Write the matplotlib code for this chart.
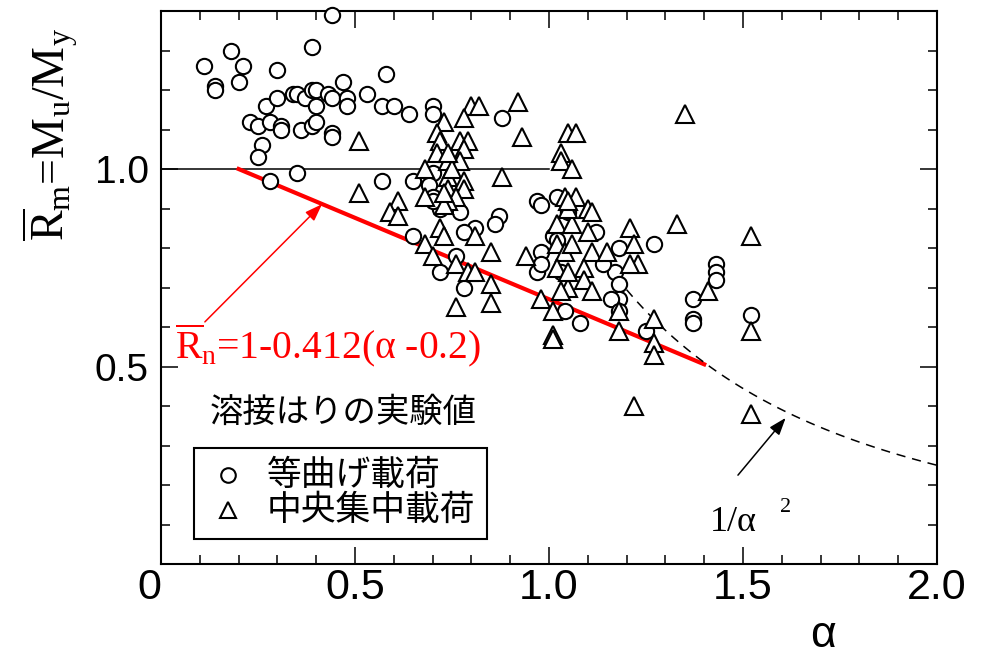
import matplotlib
matplotlib.use('Agg')
import matplotlib.pyplot as plt
import numpy as np
from matplotlib.patches import Rectangle
from matplotlib.ticker import MultipleLocator, FixedLocator

plt.rcParams['font.family'] = ['Liberation Sans', 'DejaVu Sans']
plt.rcParams['mathtext.fontset'] = 'custom'
plt.rcParams['mathtext.rm'] = 'Liberation Serif'
plt.rcParams['mathtext.it'] = 'Liberation Serif:italic'

# 等曲げ載荷 (uniform bending)
circle_x = [0.44, 0.18, 0.39, 0.11, 0.21, 0.30, 0.58, 0.14, 0.14, 0.20,
            0.47, 0.53, 0.27, 0.30, 0.34, 0.35, 0.37, 0.39, 0.40, 0.40,
            0.43, 0.44, 0.48, 0.48, 0.57, 0.60, 0.64, 0.70, 0.70, 0.23,
            0.25, 0.28, 0.31, 0.31, 0.36, 0.39, 0.40, 0.44, 0.44, 0.26,
            0.25, 0.28, 0.35, 0.57, 0.65, 0.70, 0.88, 0.69, 0.70, 0.72,
            0.77, 0.81, 0.87, 0.86, 0.65, 0.78, 0.76, 0.72, 0.78, 0.97,
            0.98, 1.02, 0.98, 0.97, 0.98, 1.04, 1.08, 1.12, 1.01, 1.18,
            1.17, 1.18, 1.27, 1.43, 1.43, 1.43, 1.37, 1.37, 1.37, 1.52,
            1.18, 1.16, 1.18, 1.25, 1.05, 1.02, 1.03, 1.14, 0.70]
circle_y = [1.39, 1.30, 1.31, 1.26, 1.26, 1.25, 1.24, 1.21, 1.20, 1.22,
            1.22, 1.19, 1.16, 1.18, 1.19, 1.19, 1.18, 1.20, 1.20, 1.16,
            1.19, 1.18, 1.18, 1.16, 1.16, 1.16, 1.14, 1.16, 1.14, 1.12,
            1.11, 1.12, 1.11, 1.10, 1.10, 1.11, 1.12, 1.09, 1.08, 1.06,
            1.03, 0.97, 0.99, 0.97, 0.97, 0.99, 1.13, 0.96, 0.93, 0.90,
            0.89, 0.85, 0.88, 0.86, 0.83, 0.84, 0.78, 0.74, 0.70, 0.92,
            0.91, 0.93, 0.79, 0.74, 0.76, 0.64, 0.61, 0.84, 0.83, 0.80,
            0.74, 0.71, 0.81, 0.76, 0.74, 0.72, 0.67, 0.62, 0.61, 0.63,
            0.67, 0.67, 0.64, 0.59, 0.89, 0.82, 0.74, 0.76, 0.92]

# 中央集中載荷 (central point load)
tri_x = [0.51, 0.51, 0.61, 0.59, 0.80, 0.82, 0.92, 0.78, 0.73, 0.71,
         0.72, 0.77, 0.79, 0.78, 0.93, 1.05, 1.07, 0.71, 0.74, 0.77,
         0.68, 0.88, 1.03, 1.03, 1.06, 0.74, 0.75, 0.78, 0.74, 0.78,
         0.76, 0.74, 0.73, 0.61, 0.72, 0.73, 0.68, 0.81, 0.70, 0.85,
         0.94, 0.76, 0.79, 0.81, 0.85, 0.85, 0.76, 0.98, 1.01, 1.01,
         1.01, 1.02, 1.06, 1.02, 1.04, 1.02, 1.04, 1.07, 1.05, 1.05,
         1.03, 1.35, 1.05, 1.10, 1.11, 1.10, 1.21, 1.33, 1.06, 1.11,
         1.15, 1.22, 1.23, 1.21, 1.09, 1.09, 1.52, 1.41, 1.52, 1.11,
         1.18, 1.18, 1.27, 1.27, 1.27, 1.22, 1.52, 1.05, 0.74, 0.68,
         0.73]
tri_y = [1.07, 0.94, 0.92, 0.89, 1.16, 1.16, 1.17, 1.13, 1.12, 1.09,
         1.07, 1.07, 1.07, 1.05, 1.08, 1.09, 1.09, 1.04, 1.02, 1.02,
         1.00, 0.98, 1.04, 1.02, 1.00, 0.98, 1.00, 0.97, 0.95, 0.95,
         0.93, 0.92, 0.91, 0.88, 0.85, 0.83, 0.81, 0.83, 0.78, 0.79,
         0.78, 0.76, 0.74, 0.74, 0.71, 0.66, 0.65, 0.67, 0.64, 0.58,
         0.57, 0.86, 0.86, 0.81, 0.79, 0.75, 0.93, 0.93, 0.90, 0.70,
         0.69, 1.14, 0.92, 0.90, 0.89, 0.84, 0.85, 0.86, 0.81, 0.79,
         0.79, 0.81, 0.76, 0.76, 0.75, 0.72, 0.83, 0.69, 0.59, 0.69,
         0.64, 0.59, 0.62, 0.56, 0.53, 0.40, 0.38, 0.74, 1.04, 0.93,
         0.94]

x_ticks = [0, 0.5, 1.0, 1.5, 2.0]
x_ticklabels = ['0', '0.5', '1.0', '1.5', '2.0']
y_ticks = [0.5, 1.0]
y_ticklabels = ['0.5', '1.0']

# design curves
a_lin = np.array([0.2, 1.4])
r_lin = 1 - 0.412 * (a_lin - 0.2)
a_euler = np.linspace(1.2, 2.0, 60)
r_euler = 1 / a_euler ** 2

fig = plt.figure(figsize=(9.91, 6.56), dpi=100)
ax = fig.add_axes([0.1625, 0.1402, 0.783, 0.843])
ax.set_xlim(0, 2.0)
ax.set_ylim(0, 1.4)

ax.plot([0, 1.0], [1.0, 1.0], color='black', lw=1.1, zorder=2)
ax.plot(a_lin, r_lin, color='red', lw=3.0, zorder=2)
ax.plot(a_euler, r_euler, color='black', lw=1.1, ls=(0, (6, 4.5)), zorder=2)

mk = dict(ls='none', mfc='white', mec='black', mew=1.5, clip_on=False, zorder=3)
ax.plot(circle_x, circle_y, marker='o', ms=11, **mk)
ax.plot(tri_x, tri_y, marker='^', ms=12.5, **mk)

# formula labels with arrows
ax.annotate('', xy=(0.415, 0.911), xytext=(0.113, 0.613),
            arrowprops=dict(arrowstyle='-|>,head_length=0.7,head_width=0.25',
                            color='red', lw=1.1, mutation_scale=15, shrinkA=0, shrinkB=0))
ax.text(0.036, 0.5215, r'$\overline{\mathrm{R}}_{\mathrm{n}}$=1-0.412(α -0.2)',
        color='red', fontsize=28.5, family=['Liberation Serif'], ha='left', va='baseline')

ax.annotate('', xy=(1.61, 0.37), xytext=(1.487, 0.225),
            arrowprops=dict(arrowstyle='-|>,head_length=0.7,head_width=0.25',
                            color='black', lw=1.1, mutation_scale=15, shrinkA=0, shrinkB=0))
ax.text(1.415, 0.0835, '1/α', fontsize=26, family=['Liberation Serif'], ha='left', va='baseline')
ax.text(1.595, 0.132, '2', fontsize=16, family=['Liberation Serif'], ha='left', va='baseline')

jp = ['Noto Sans CJK JP', 'DejaVu Sans']
ax.text(0.2345, 0.2749, '溶接はりの実験値', transform=ax.transAxes, fontsize=24,
        family=jp, ha='center', va='center')

# legend box
ax.add_patch(Rectangle((0.0425, 0.0452), 0.3775, 0.1646, transform=ax.transAxes,
                       fill=True, facecolor='white', edgecolor='black', lw=1.5, zorder=4))
ax.plot([0.0863], [0.161], marker='o', ms=10.5, transform=ax.transAxes,
        ls='none', mfc='white', mec='black', mew=1.5, zorder=5)
ax.plot([0.0863], [0.0976], marker='^', ms=12, transform=ax.transAxes,
        ls='none', mfc='white', mec='black', mew=1.5, zorder=5)
ax.text(0.1366, 0.161, '等曲げ載荷', transform=ax.transAxes, fontsize=25,
        family=jp, ha='left', va='center', zorder=5)
ax.text(0.1366, 0.0976, '中央集中載荷', transform=ax.transAxes, fontsize=25,
        family=jp, ha='left', va='center', zorder=5)

# axes styling
for s in ax.spines.values():
    s.set_linewidth(1.5)
ax.xaxis.set_major_locator(FixedLocator(x_ticks))
ax.xaxis.set_minor_locator(MultipleLocator(0.1))
ax.yaxis.set_major_locator(FixedLocator(y_ticks))
ax.yaxis.set_minor_locator(MultipleLocator(0.1))
ax.set_xticklabels(x_ticklabels)
ax.set_yticklabels(y_ticklabels)
ax.tick_params(which='both', direction='in', top=True, right=True, width=1.1)
ax.tick_params(which='major', length=12)
ax.tick_params(which='minor', length=6.5)
ax.tick_params(axis='x', labelsize=31, pad=3)
ax.tick_params(axis='y', labelsize=28, pad=9)
# origin label sits left of the corner
ax.get_xticklabels()[0].set_horizontalalignment('right')

ax.set_xlabel('α', fontsize=32, va='baseline')
ax.xaxis.set_label_coords(0.853, -0.150)
ax.set_ylabel(r'$\overline{\mathrm{R}}_{\mathrm{m}}$=M$_{\mathrm{u}}$/M$_{\mathrm{y}}$',
              fontsize=33, family=['Liberation Serif'], va='center', ha='center')
ax.yaxis.set_label_coords(-0.143, 0.776)

fig.savefig('out.png', dpi=100)
